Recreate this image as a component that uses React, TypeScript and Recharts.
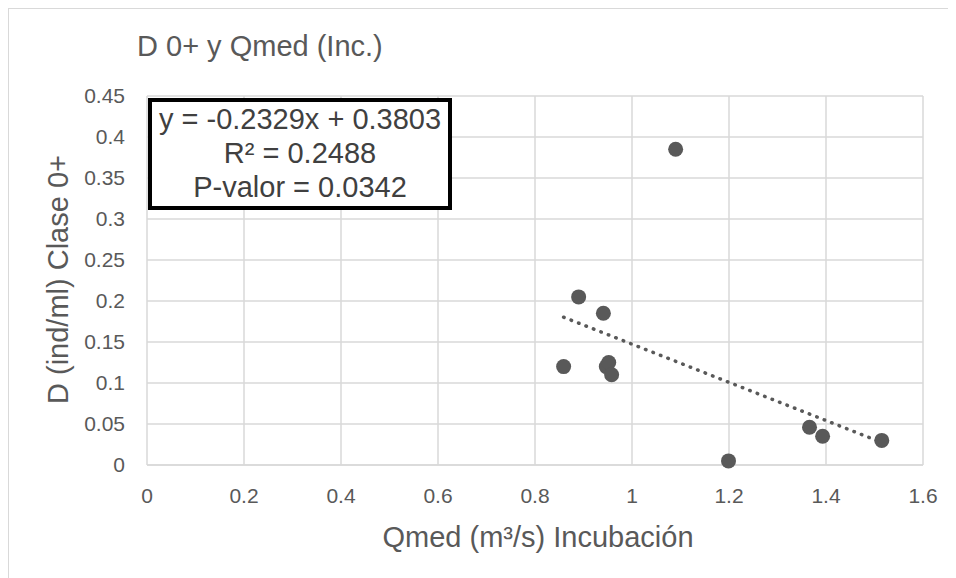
import React from 'react';
import { ScatterChart, Scatter, XAxis, YAxis, CartesianGrid } from 'recharts';

const qmed = [0.859, 0.89, 0.941, 0.947, 0.952, 0.958, 1.09, 1.199, 1.366, 1.393, 1.515];
const dens = [0.12, 0.205, 0.185, 0.12, 0.125, 0.11, 0.385, 0.005, 0.046, 0.035, 0.03];

const xTicks = [0, 0.2, 0.4, 0.6, 0.8, 1, 1.2, 1.4, 1.6];
const yTicks = [0, 0.05, 0.1, 0.15, 0.2, 0.25, 0.3, 0.35, 0.4, 0.45];

const slope = -0.2329;
const intercept = 0.3803;
const eqLines = ['y = -0.2329x + 0.3803', 'R² = 0.2488', 'P-valor = 0.0342'];

const FONT = '"Liberation Sans", Arial, sans-serif';
const GREY = '#595959';
const GRID = '#d9d9d9';

const points = qmed.map((x, i) => ({ x, y: dens[i] }));
const xMin = Math.min(...qmed);
const xMax = Math.max(...qmed);
const trend = [xMin, xMax].map((x) => ({ x, y: slope * x + intercept }));

const tickStyle = { fontFamily: FONT, fontSize: 21, fill: GREY };

const Dot = (props: any) => <circle cx={props.cx} cy={props.cy} r={7.5} fill={GREY} />;

const App: React.FC = () => (
  <div
    style={{
      position: 'relative',
      width: 948,
      height: 570,
      boxSizing: 'border-box',
      borderTop: `1px solid ${GRID}`,
      borderLeft: `1px solid ${GRID}`,
      fontFamily: FONT,
      background: '#fff',
    }}
  >
    <div
      style={{
        position: 'absolute',
        left: 128,
        top: 23,
        fontSize: 29,
        lineHeight: '29px',
        color: GREY,
        whiteSpace: 'nowrap',
      }}
    >
      D 0+ y Qmed (Inc.)
    </div>
    <ScatterChart
      width={947}
      height={569}
      margin={{ top: 87, right: 33, bottom: 53, left: 0 }}
    >
      <CartesianGrid stroke={GRID} strokeWidth={1.5} />
      <XAxis
        type="number"
        dataKey="x"
        domain={[0, 1.6]}
        ticks={xTicks}
        height={60}
        tickLine={false}
        axisLine={{ stroke: GRID, strokeWidth: 1.5 }}
        tick={tickStyle}
        tickMargin={17}
        interval={0}
        label={{
          content: ({ viewBox }: any) => (
            <text
              x={viewBox.x + viewBox.width / 2 + 3}
              y={viewBox.y + 82}
              textAnchor="middle"
              fontFamily={FONT}
              fontSize={29}
              fill={GREY}
            >
              Qmed (m³/s) Incubación
            </text>
          ),
        }}
      />
      <YAxis
        type="number"
        dataKey="y"
        domain={[0, 0.45]}
        ticks={yTicks}
        width={138}
        tickLine={false}
        axisLine={false}
        tick={tickStyle}
        tickMargin={16}
        interval={0}
        label={{
          content: ({ viewBox }: any) => {
            const cx = 59;
            const cy = viewBox.y + viewBox.height / 2 - 1;
            return (
              <text
                x={cx}
                y={cy}
                transform={`rotate(-90 ${cx} ${cy})`}
                textAnchor="middle"
                fontFamily={FONT}
                fontSize={29}
                fill={GREY}
              >
                D (ind/ml) Clase 0+
              </text>
            );
          },
        }}
      />
      <Scatter
        data={trend}
        isAnimationActive={false}
        line={{ stroke: GREY, strokeWidth: 3.5, strokeDasharray: '0.5 7.5', strokeLinecap: 'round' }}
        shape={() => <g />}
      />
      <Scatter data={points} fill={GREY} shape={Dot} isAnimationActive={false} />
    </ScatterChart>
    <div
      style={{
        position: 'absolute',
        left: 139,
        top: 89,
        width: 304,
        height: 112,
        boxSizing: 'border-box',
        border: '4px solid #000',
        background: '#fff',
        textAlign: 'center',
        fontSize: 29,
        lineHeight: '34px',
        color: '#404040',
        whiteSpace: 'nowrap',
      }}
    >
      {eqLines.map((l) => (
        <div key={l}>{l}</div>
      ))}
    </div>
  </div>
);

export default App;
